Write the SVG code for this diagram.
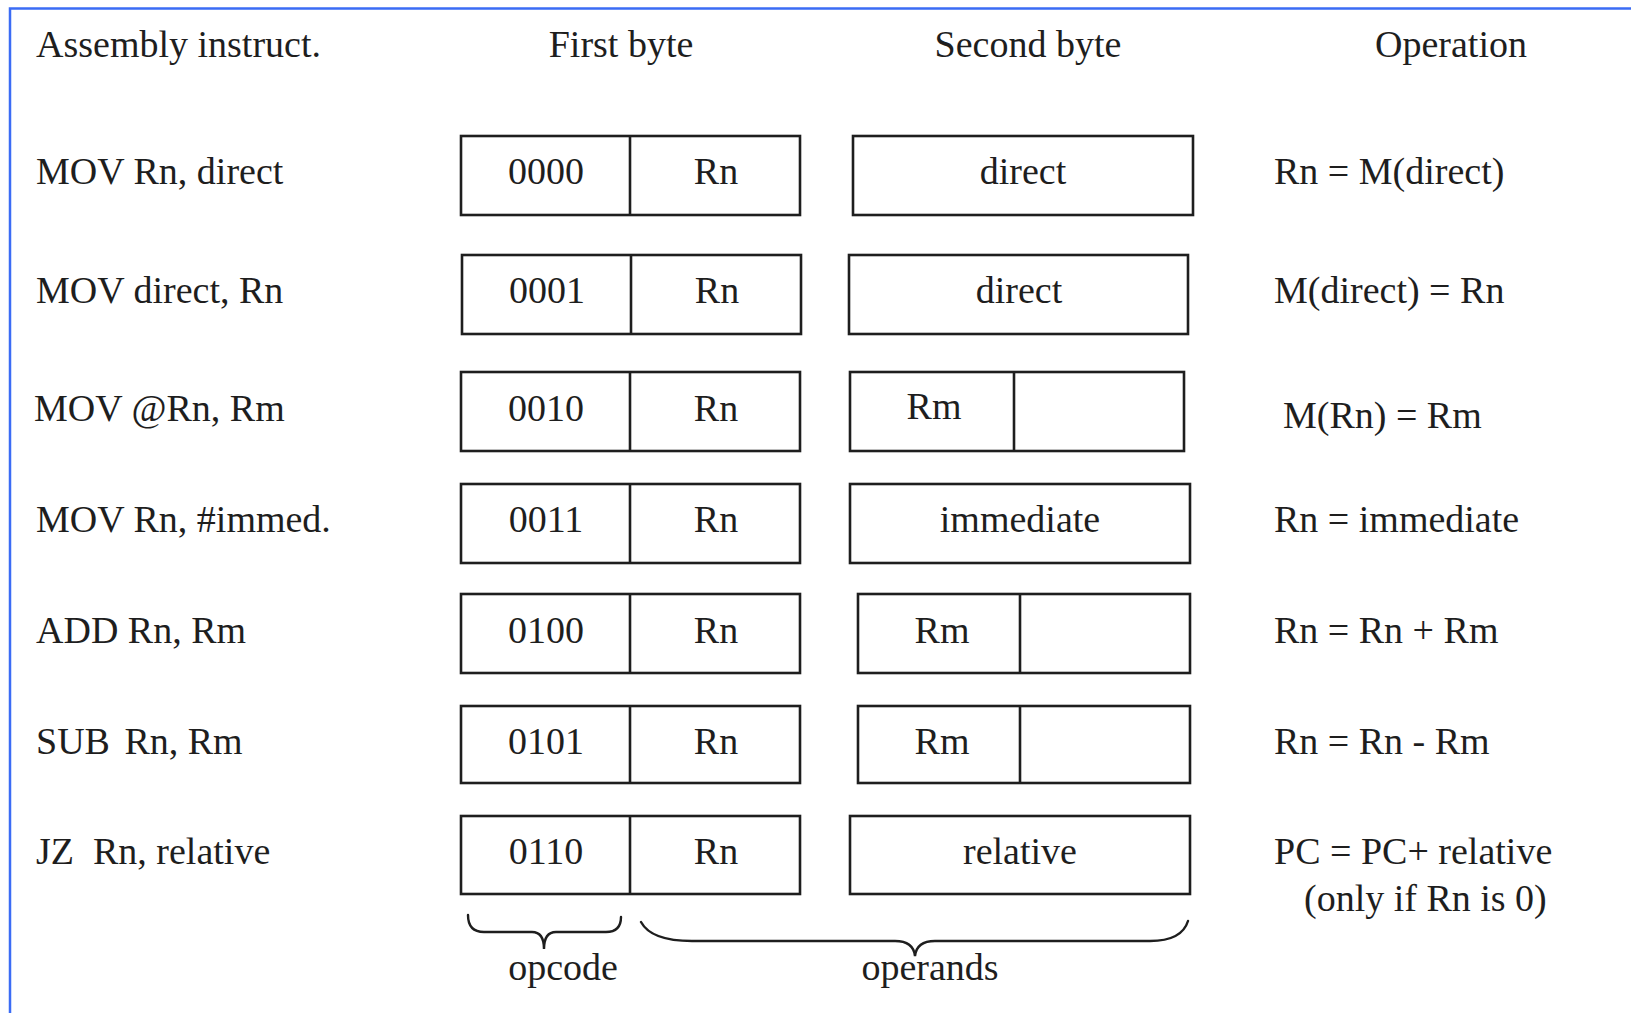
<svg xmlns="http://www.w3.org/2000/svg" width="1631" height="1013" viewBox="0 0 1631 1013">
  <style>
    text { font-family: "Liberation Serif", "Times New Roman", serif; font-size: 38px; fill: #1e1e1e; }
    .c { text-anchor: middle; }
    .box { fill: #ffffff; stroke: #1e1e1e; stroke-width: 2.6; }
    .div { stroke: #1e1e1e; stroke-width: 2.6; }
    .brace { fill: none; stroke: #1e1e1e; stroke-width: 2.4; stroke-linecap: round; }
    .frame { fill: none; stroke: #3b6cf5; stroke-width: 2.5; }
  </style>
  <rect width="1631" height="1013" fill="#ffffff"/>
  <!-- frame: top and left edges -->
  <path class="frame" d="M10,1013 L10,8.5 L1631,8.5"/>

  <!-- column headers -->
  <g id="headers">
    <text x="36" y="57">Assembly instruct.</text>
    <text class="c" x="621" y="57">First byte</text>
    <text class="c" x="1028" y="57">Second byte</text>
    <text class="c" x="1451" y="57">Operation</text>
  </g>

  <!-- MOV Rn, direct -->
  <g id="row-mov-rn-direct">
    <text x="36" y="184">MOV Rn, direct</text>
    <rect class="box" x="461" y="136" width="339" height="79"/>
    <line class="div" x1="630" y1="136" x2="630" y2="215"/>
    <text class="c" x="546" y="184">0000</text>
    <text class="c" x="716" y="184">Rn</text>
    <rect class="box" x="853" y="136" width="340" height="79"/>
    <text class="c" x="1023" y="184">direct</text>
    <text x="1274" y="184">Rn = M(direct)</text>
  </g>

  <!-- MOV direct, Rn -->
  <g id="row-mov-direct-rn">
    <text x="36" y="303">MOV direct, Rn</text>
    <rect class="box" x="462" y="255" width="339" height="79"/>
    <line class="div" x1="631" y1="255" x2="631" y2="334"/>
    <text class="c" x="547" y="303">0001</text>
    <text class="c" x="717" y="303">Rn</text>
    <rect class="box" x="849" y="255" width="339" height="79"/>
    <text class="c" x="1019" y="303">direct</text>
    <text x="1274" y="303">M(direct) = Rn</text>
  </g>

  <!-- MOV @Rn, Rm -->
  <g id="row-mov-indirect">
    <text x="34" y="421">MOV @Rn, Rm</text>
    <rect class="box" x="461" y="372" width="339" height="79"/>
    <line class="div" x1="630" y1="372" x2="630" y2="451"/>
    <text class="c" x="546" y="421">0010</text>
    <text class="c" x="716" y="421">Rn</text>
    <rect class="box" x="850" y="372" width="334" height="79"/>
    <line class="div" x1="1014" y1="372" x2="1014" y2="451"/>
    <text class="c" x="934" y="419">Rm</text>
    <text x="1283" y="428">M(Rn) = Rm</text>
  </g>

  <!-- MOV Rn, #immed. -->
  <g id="row-mov-immediate">
    <text x="36" y="532">MOV Rn, #immed.</text>
    <rect class="box" x="461" y="484" width="339" height="79"/>
    <line class="div" x1="630" y1="484" x2="630" y2="563"/>
    <text class="c" x="546" y="532">0011</text>
    <text class="c" x="716" y="532">Rn</text>
    <rect class="box" x="850" y="484" width="340" height="79"/>
    <text class="c" x="1020" y="532">immediate</text>
    <text x="1274" y="532">Rn = immediate</text>
  </g>

  <!-- ADD Rn, Rm -->
  <g id="row-add">
    <text x="36" y="643">ADD Rn, Rm</text>
    <rect class="box" x="461" y="594" width="339" height="79"/>
    <line class="div" x1="630" y1="594" x2="630" y2="673"/>
    <text class="c" x="546" y="643">0100</text>
    <text class="c" x="716" y="643">Rn</text>
    <rect class="box" x="858" y="594" width="332" height="79"/>
    <line class="div" x1="1020" y1="594" x2="1020" y2="673"/>
    <text class="c" x="942" y="643">Rm</text>
    <text x="1274" y="643">Rn = Rn + Rm</text>
  </g>

  <!-- SUB Rn, Rm -->
  <g id="row-sub">
    <text x="36" y="754">SUB<tspan dx="5"> Rn, Rm</tspan></text>
    <rect class="box" x="461" y="706" width="339" height="77"/>
    <line class="div" x1="630" y1="706" x2="630" y2="783"/>
    <text class="c" x="546" y="754">0101</text>
    <text class="c" x="716" y="754">Rn</text>
    <rect class="box" x="858" y="706" width="332" height="77"/>
    <line class="div" x1="1020" y1="706" x2="1020" y2="783"/>
    <text class="c" x="942" y="754">Rm</text>
    <text x="1274" y="754">Rn = Rn - Rm</text>
  </g>

  <!-- JZ Rn, relative -->
  <g id="row-jz">
    <text x="36" y="864" xml:space="preserve">JZ  Rn, relative</text>
    <rect class="box" x="461" y="816" width="339" height="78"/>
    <line class="div" x1="630" y1="816" x2="630" y2="894"/>
    <text class="c" x="546" y="864">0110</text>
    <text class="c" x="716" y="864">Rn</text>
    <rect class="box" x="850" y="816" width="340" height="78"/>
    <text class="c" x="1020" y="864">relative</text>
    <text x="1274" y="864">PC = PC+ relative</text>
    <text x="1304" y="911">(only if Rn is 0)</text>
  </g>

  <!-- field braces -->
  <g id="braces">
    <path class="brace" d="M468,915 C468,927 474,932 484,932 L532,932 C540,932 544,938 544,949 C544,938 548,932 556,932 L606,932 C616,932 621,927 621,917"/>
    <path class="brace" d="M641,922 C648,935 664,941 692,941 L895,941 C908,941 914,947 915,956 C916,947 922,941 935,941 L1150,941 C1172,941 1184,934 1188,921"/>
    <text class="c" x="563" y="980">opcode</text>
    <text class="c" x="930" y="980">operands</text>
  </g>
</svg>
